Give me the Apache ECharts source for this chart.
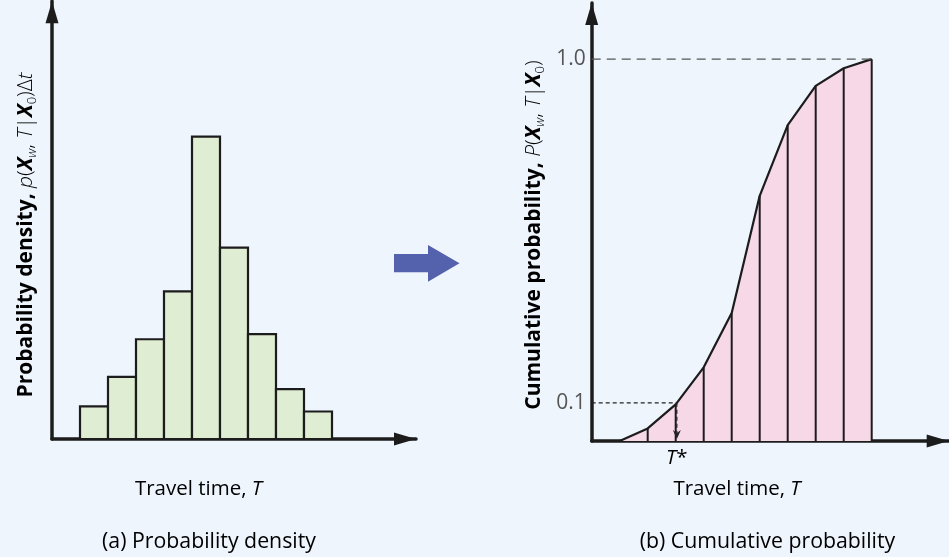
<!DOCTYPE html>
<html>
<head>
<meta charset="utf-8">
<script src="https://cdn.jsdelivr.net/npm/echarts@6/dist/echarts.min.js"></script>
<style>
  html, body { margin: 0; padding: 0; background: #eef5fd; }
  #chart { width: 949px; height: 557px; }
</style>
</head>
<body>
<div id="chart"></div>
<script>
// Travel-time histogram: equal-width bins and their probabilities
const binStart = [1, 2, 3, 4, 5, 6, 7, 8, 9];
const binEnd = [2, 3, 4, 5, 6, 7, 8, 9, 10];
const density = [0.032, 0.061, 0.098, 0.145, 0.297, 0.188, 0.103, 0.049, 0.027];

// Cumulative probability at each bin edge
const cumTime = [1, 2, 3, 4, 5, 6, 7, 8, 9, 10];
const cumProb = [0, 0.033, 0.096, 0.193, 0.335, 0.642, 0.827, 0.930, 0.976, 1.0];

// Labelled levels on the cumulative axis
const yTickValues = [0.1, 1.0];
const yTickLabels = ['0.1', '1.0'];
const quantileLevel = 0.1;
const fullLevel = 1.0;

const FONT = 'Open Sans';
const INK = '#1c1c1c';
const TEXT = '#363636';

// Travel time at which the cumulative curve reaches a given level
function timeAtLevel(level) {
  for (let i = 1; i < cumProb.length; i++) {
    if (cumProb[i] >= level) {
      const f = (level - cumProb[i - 1]) / (cumProb[i] - cumProb[i - 1]);
      return cumTime[i - 1] + f * (cumTime[i] - cumTime[i - 1]);
    }
  }
  return cumTime[cumTime.length - 1];
}
const tStar = timeAtLevel(quantileLevel);

const axisLine = {
  show: true,
  onZero: false,
  symbol: ['none', 'triangle'],
  symbolSize: [13, 22],
  symbolOffset: [0, -11],
  lineStyle: { color: INK, width: 3.5 }
};
const hidden = {
  axisTick: { show: false },
  axisLabel: { show: false },
  splitLine: { show: false }
};

// Rich-text styles for the axis titles
const titleRich = {
  b: { fontFamily: FONT, fontSize: 21, fontWeight: 'bold', color: INK, lineHeight: 26 },
  i: { fontFamily: FONT, fontSize: 21, fontStyle: 'italic', fontWeight: 300, color: TEXT, lineHeight: 26 },
  n: { fontFamily: FONT, fontSize: 21, fontWeight: 300, color: TEXT, lineHeight: 26 },
  bx: { fontFamily: FONT, fontSize: 21, fontWeight: 'bold', fontStyle: 'italic', color: INK, lineHeight: 26 },
  sw: { fontFamily: FONT, fontSize: 13, fontStyle: 'italic', fontWeight: 300, color: TEXT, lineHeight: 10, verticalAlign: 'bottom' },
  s0: { fontFamily: FONT, fontSize: 13, fontWeight: 300, color: TEXT, lineHeight: 10, verticalAlign: 'bottom' }
};
const plainRich = {
  n: { fontFamily: FONT, fontSize: 20.5, color: TEXT },
  i: { fontFamily: FONT, fontSize: 20.5, fontStyle: 'italic', color: TEXT },
  c: { fontFamily: FONT, fontSize: 21.3, color: TEXT }
};

function textItem(x, y, text, rotation) {
  return {
    type: 'text', x: x, y: y, rotation: rotation || 0,
    style: {
      text: text,
      rich: rotation ? titleRich : plainRich,
      align: 'center', verticalAlign: 'middle'
    }
  };
}

const chart = echarts.init(document.getElementById('chart'), null, { renderer: 'canvas' });

chart.setOption({
  backgroundColor: '#eef5fd',
  animation: false,
  grid: [
    { left: 52, top: 1.3, width: 364, height: 437.7 },
    { left: 591.7, top: 3, width: 357, height: 438 }
  ],
  xAxis: [
    Object.assign({ gridIndex: 0, type: 'value', min: 0, max: 13, axisLine: axisLine }, hidden),
    Object.assign({ gridIndex: 1, type: 'value', min: 0, max: 12.75, axisLine: axisLine }, hidden)
  ],
  yAxis: [
    Object.assign({ gridIndex: 0, type: 'value', min: 0, max: 0.43, axisLine: axisLine }, hidden),
    {
      gridIndex: 1, type: 'value', min: 0, max: 1.147, axisLine: axisLine,
      axisTick: { show: false },
      splitLine: { show: false },
      axisLabel: {
        show: true,
        customValues: yTickValues,
        margin: 6,
        fontFamily: FONT, fontSize: 21, color: '#555555',
        formatter: function (v) {
          const k = yTickValues.findIndex(function (t) { return Math.abs(t - v) < 1e-9; });
          return k >= 0 ? yTickLabels[k] : '';
        }
      }
    }
  ],
  series: [
    {
      // histogram bars
      type: 'custom',
      xAxisIndex: 0, yAxisIndex: 0,
      encode: { x: [0, 1], y: 2 },
      data: binStart.map(function (s, i) { return [s, binEnd[i], density[i]]; }),
      renderItem: function (params, api) {
        const top = api.coord([api.value(0), api.value(2)]);
        const bot = api.coord([api.value(1), 0]);
        return {
          type: 'rect',
          shape: { x: top[0], y: top[1], width: bot[0] - top[0], height: bot[1] - top[1] },
          style: { fill: '#dfedd3', stroke: INK, lineWidth: 2.2 }
        };
      }
    },
    {
      // cumulative curve with shaded area
      type: 'line',
      xAxisIndex: 1, yAxisIndex: 1,
      data: cumTime.map(function (t, i) { return [t, cumProb[i]]; }),
      symbol: 'none',
      lineStyle: { color: INK, width: 2.2 },
      areaStyle: { color: '#f7d8e7', opacity: 1 },
      z: 2
    },
    {
      // vertical strips at each bin edge
      type: 'custom',
      xAxisIndex: 1, yAxisIndex: 1,
      encode: { x: 0, y: 1 },
      data: cumTime.slice(1).map(function (t, i) { return [t, cumProb[i + 1]]; }),
      renderItem: function (params, api) {
        const a = api.coord([api.value(0), 0]);
        const b = api.coord([api.value(0), api.value(1)]);
        return {
          type: 'line',
          shape: { x1: a[0], y1: a[1], x2: b[0], y2: b[1] },
          style: { stroke: INK, lineWidth: 2 }
        };
      },
      z: 3
    },
    {
      // dashed reference line at the full level
      type: 'custom',
      xAxisIndex: 1, yAxisIndex: 1,
      encode: { x: 0, y: 1 },
      data: [[cumTime[cumTime.length - 1], fullLevel]],
      renderItem: function (params, api) {
        const a = api.coord([0, api.value(1)]);
        const b = api.coord([api.value(0), api.value(1)]);
        return {
          type: 'line',
          shape: { x1: a[0], y1: a[1], x2: b[0], y2: b[1] },
          style: { stroke: '#555555', lineWidth: 1.3, lineDash: [9, 6] }
        };
      },
      z: 4
    },
    {
      // quantile read-off: across at the level, then down to T*
      type: 'custom',
      xAxisIndex: 1, yAxisIndex: 1,
      encode: { x: 0, y: 1 },
      data: [[tStar, quantileLevel]],
      renderItem: function (params, api) {
        const left = api.coord([0, api.value(1)]);
        const hit = api.coord([api.value(0), api.value(1)]);
        const base = api.coord([api.value(0), 0]);
        const tipY = base[1] - 2;
        const x = hit[0];
        return {
          type: 'group',
          children: [
            {
              type: 'line',
              shape: { x1: left[0], y1: left[1], x2: hit[0], y2: hit[1] },
              style: { stroke: '#222222', lineWidth: 1.2, lineDash: [4, 3] }
            },
            {
              type: 'line',
              shape: { x1: x, y1: hit[1], x2: x, y2: tipY - 6 },
              style: { stroke: '#222222', lineWidth: 1.2, lineDash: [4, 3] }
            },
            {
              type: 'polygon',
              shape: { points: [[x, tipY], [x - 4, tipY - 9], [x, tipY - 6], [x + 4, tipY - 9]] },
              style: { fill: '#222222' }
            },
            {
              type: 'text',
              x: x, y: base[1] + 17,
              style: {
                text: '{i|T}{n|*}',
                rich: plainRich,
                align: 'center', verticalAlign: 'middle'
              }
            }
          ]
        };
      },
      z: 5
    }
  ],
  graphic: [
    {
      type: 'polygon',
      shape: { points: [[394, 254], [428, 254], [428, 245], [459.5, 263.3], [428, 281.7], [428, 272.3], [394, 272.3]] },
      style: { fill: '#5461ad' }
    },
    textItem(26, 235, '{b|Probability density, }{i|p}{n|(}{bx|X}{sw|w}{n|, }{i|T}{n||}{bx|X}{s0|0}{n|)Δ}{i|t}', Math.PI / 2),
    textItem(534, 235, '{b|Cumulative probability, }{i|P}{n|(}{bx|X}{sw|w}{n|, }{i|T}{n||}{bx|X}{s0|0}{n|)}', Math.PI / 2),
    textItem(198.5, 489, '{n|Travel time, }{i|T}'),
    textItem(737, 489, '{n|Travel time, }{i|T}'),
    textItem(209, 541.5, '{c|(a) Probability density}'),
    textItem(767.5, 541.5, '{c|(b) Cumulative probability}')
  ]
});
</script>
</body>
</html>
